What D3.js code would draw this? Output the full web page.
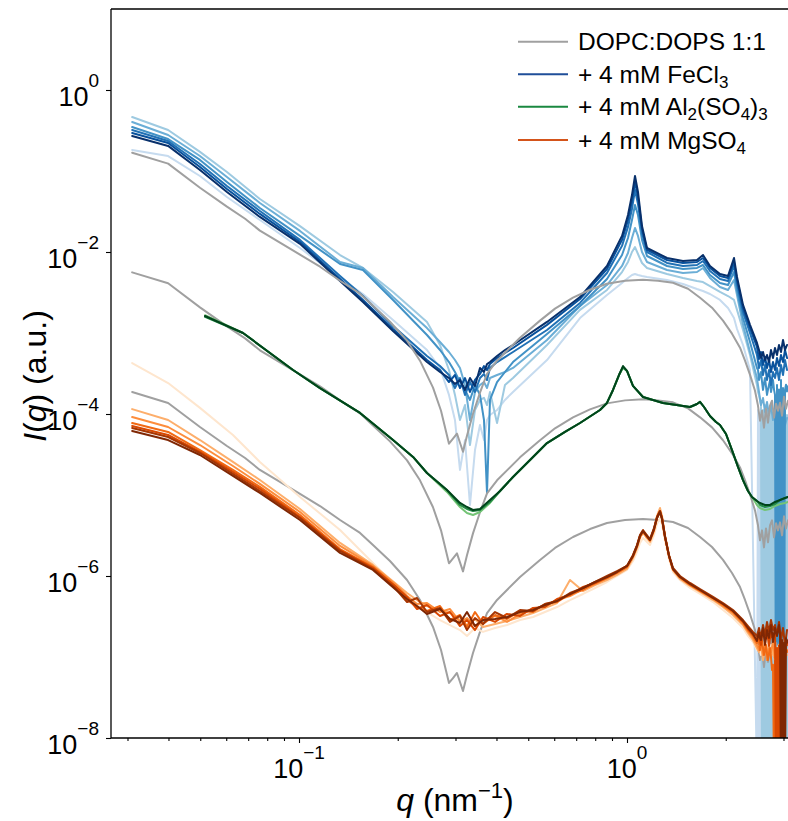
<!DOCTYPE html>
<html><head><meta charset="utf-8">
<script src="https://cdn.jsdelivr.net/npm/d3@7"></script>
<style>body{margin:0;background:#fff}svg{display:block}text{font-family:"Liberation Sans",Arial,sans-serif;fill:#000}</style>
</head><body><svg id="c" width="788" height="821"></svg>
<script>
// ---------- DATA ----------
// reference DOPC:DOPS 1:1 (plotted three times with offsets)
const qGray = [0.0310,0.0399,0.0499,0.0603,0.0685,0.0760,0.0875,0.1007,0.1159,0.1334,0.1535,0.1681,0.1894,0.2135,0.2338,0.2562,0.2710,0.2866,0.2948,0.3031,0.3096,0.3162,0.3252,0.3392,0.3563,0.3743,0.4016,0.4306,0.4719,0.5430,0.6033,0.6845,0.7712,0.8689,0.9861,1.119,1.243,1.381,1.535,1.670,1.816,1.962,2.090,2.211,2.290,2.371,2.456,2.508,2.544,2.580,2.616,2.653,2.691,2.729,2.768,2.807,2.847,2.887,2.928,2.969,3.011,3.053,3.096];
const iGray = [1.87e-4,1.37e-4,6.91e-5,4.03e-5,2.86e-5,2.04e-5,1.45e-5,1.03e-5,7.31e-6,4.91e-6,3.40e-6,2.41e-6,1.53e-6,8.93e-7,5.06e-7,2.35e-7,1.22e-7,4.78e-8,5.50e-8,6.35e-8,4.91e-8,3.80e-8,6.00e-8,1.12e-7,2.04e-7,3.49e-7,5.06e-7,6.72e-7,9.72e-7,1.58e-6,2.22e-6,3.03e-6,3.80e-6,4.51e-6,4.91e-6,5.06e-6,4.91e-6,4.64e-6,3.91e-6,3.03e-6,2.28e-6,1.58e-6,1.09e-6,7.31e-7,5.06e-7,3.40e-7,2.15e-7,1.41e-7,9.18e-8,1.22e-7,7.52e-8,1.29e-7,8.68e-8,1.41e-7,1.62e-7,1.00e-7,1.49e-7,1.22e-7,1.53e-7,1.06e-7,1.82e-7,1.29e-7,1.62e-7];
const grayOffsets = [900, 30, 1];

// high-q tail grids (coarse and fine)
const qTail = [2.526,2.561,2.598,2.635,2.672,2.710,2.748,2.787,2.826,2.866,2.907,2.948,2.990,3.032,3.075];
const qTailFine = [2.4905,2.5084,2.526,2.5438,2.5614,2.5798,2.5977,2.6163,2.6345,2.6534,2.6718,2.6909,2.7096,2.7290,2.7480,2.7677,2.7869,2.8069,2.8264,2.8467,2.8664,2.8868,2.9068,2.9276,2.9480,2.9690,2.9896,3.0110,3.0318,3.0533,3.0745,3.0962];

// + 4 mM FeCl3 (time series, light -> dark)
const qFeMain = [0.0310,0.0399,0.0499,0.0603,0.0760,0.1007,0.1334,0.1567,0.1935,0.2456,0.2691,0.2866,0.2989,0.3096,0.3207,0.3321,0.3440,0.3563,0.3664,0.3743,0.3822,0.4016,0.4246,0.4492,0.5703,0.7190,0.8689,0.9656,1.0070,1.0356,1.0578,1.0802,1.1110,1.1508,1.3243,1.4815,1.6345,1.7049,1.7906,1.9210,2.0322,2.1193,2.1647,2.2579,2.3714,2.4905];
const fe1 = [0.182,0.153,0.0868,0.0477,0.0248,0.0112,4.77e-3,3.03e-3,1.45e-3, 6.17e-4,3.70e-4,1.72e-4,8.43e-5,2.04e-5,4.77e-5,7.53e-6,3.59e-5,7.32e-5,4.77e-5,8.43e-5,9.72e-5,1.12e-4,1.49e-4,1.87e-4, 4.64e-4,1.53e-3,2.95e-3,4.14e-3,4.77e-3,5.20e-3,5.35e-3,5.20e-3,5.05e-3,4.91e-3,4.51e-3,4.03e-3,3.49e-3,3.30e-3,3.03e-3,2.56e-3,2.04e-3,1.53e-3,1.12e-3,7.11e-4,3.49e-4, 0,1.12e-4,0,9.7e-5,0,8.4e-5,0,7.3e-5,0,6.4e-5,0,7.3e-5,0,5.5e-5,0,4.8e-5,0,6.4e-5,0,5.5e-5,0,4.8e-5,0,6.4e-5,0,5.5e-5,0,4.8e-5,0,5.5e-5,0,4.8e-5];
const fe2 = [0.464,0.321,0.172,0.0972,0.0451,0.0209,9.18e-3,6.35e-3,3.21e-3, 1.37e-3,7.11e-4,3.49e-4,1.72e-4,8.43e-5,1.29e-4,4.14e-5,1.12e-4,1.49e-4,1.58e-4,1.29e-4,1.87e-4,7.74e-5,2.28e-4,2.78e-4, 7.11e-4,1.93e-3,3.40e-3,5.66e-3,7.53e-3,1.00e-2,1.15e-2,9.45e-3,7.32e-3,6.35e-3,5.35e-3,4.77e-3,4.38e-3,4.26e-3,3.80e-3,3.21e-3,2.86e-3,2.56e-3,1.93e-3,1.09e-3,5.35e-4,2.28e-4, 1.87e-4,1.7e-4,1.49e-4,1.3e-4,0,1.12e-4,0,1.29e-4,0,1.12e-4,0,9.7e-5,0,1.12e-4,0,9.7e-5,0,8.4e-5,0,1.12e-4,0,9.7e-5,0,8.4e-5,0,9.7e-5,0,1.12e-4,0,9.7e-5,0];
const fe3 = [0.403,0.278,0.153,0.0843,0.0403,0.0182,7.53e-3,6.35e-3,2.78e-3, 1.15e-3,7.74e-4,5.83e-4,4.64e-4,3.70e-4,2.28e-4,8.43e-5,1.87e-4,2.28e-4,2.48e-4,2.09e-4,2.78e-4,3.03e-4,3.30e-4,3.70e-4, 8.20e-4,2.15e-3,3.91e-3,6.72e-3,9.72e-3,1.49e-2,1.98e-2,1.58e-2,1.00e-2,7.53e-3,6.00e-3,5.51e-3,5.66e-3,6.35e-3,4.77e-3,3.70e-3,3.40e-3,4.51e-3,2.95e-3,1.26e-3,5.83e-4,2.78e-4, 1.87e-4,1.29e-4,1.58e-4,1.06e-4,1.41e-4,9.72e-5,1.29e-4,8.43e-5,1.12e-4,7.32e-5,1.06e-4,6.35e-5,9.72e-5,7.32e-5,8.93e-5];
const fe4 = [0.349,0.248,0.137,0.0732,0.0349,0.0158,7.11e-3,6.00e-3,2.56e-3, 9.45e-4,6.17e-4,4.38e-4,3.30e-4,2.48e-4,1.98e-4,1.49e-4,2.28e-4,1.72e-4,8.43e-5,1.06e-5,1.49e-4,2.48e-4,3.30e-4,4.38e-4, 9.72e-4,2.15e-3,4.64e-3,9.18e-3,1.49e-2,2.48e-2,3.80e-2,2.86e-2,1.41e-2,8.93e-3,6.72e-3,6.17e-3,6.35e-3,6.91e-3,5.20e-3,4.14e-3,3.91e-3,5.66e-3,3.40e-3,1.53e-3,7.74e-4,3.70e-4, 3.5e-4,2.63e-4,3.0e-4,3.3e-4,2.5e-4,1.98e-4,2.4e-4,2.78e-4,2.2e-4,1.72e-4,2.0e-4,2.28e-4,2.6e-4,1.87e-4,2.2e-4,2.63e-4,2.0e-4,1.72e-4,0,2.28e-4,0,2.0e-4,0,2.63e-4,0,2.1e-4,0,1.98e-4,2.3e-4,1.9e-4,2.2e-4];
const fe5 = [0.321,0.235,0.122,0.0653,0.0321,0.0141,5.05e-3,2.86e-3,1.22e-3, 5.20e-4,3.91e-4,3.03e-4,2.09e-4,2.78e-4,1.72e-4,2.48e-4,1.87e-4,2.78e-4,3.12e-4,2.63e-4,3.70e-4,4.38e-4,5.05e-4,5.83e-4, 1.09e-3,2.35e-3,5.51e-3,1.19e-2,2.04e-2,3.40e-2,5.83e-2,3.91e-2,1.72e-2,1.00e-2,7.32e-3,6.72e-3,6.91e-3,7.74e-3,5.83e-3,4.64e-3,4.38e-3,6.72e-3,4.03e-3,1.82e-3,1.00e-3,5.35e-4, 3.70e-4,4.64e-4,3.03e-4,4.03e-4,2.63e-4,3.49e-4,2.28e-4,3.30e-4,2.78e-4,3.70e-4,2.63e-4,4.03e-4,3.03e-4,4.64e-4,3.49e-4];
const fe6 = [0.295,0.222,0.112,0.0600,0.0295,0.0133,4.64e-3,2.56e-3,1.12e-3, 4.64e-4,3.49e-4,2.48e-4,3.03e-4,2.09e-4,2.78e-4,1.87e-4,2.63e-4,3.12e-4,3.91e-4,3.49e-4,4.14e-4,4.91e-4,5.66e-4,6.53e-4, 1.26e-3,2.63e-3,6.17e-3,1.41e-2,2.48e-2,4.26e-2,7.32e-2,4.77e-2,1.93e-2,1.06e-2,7.97e-3,7.32e-3,7.53e-3,8.43e-3,6.35e-3,5.05e-3,4.77e-3,7.53e-3,4.51e-3,2.04e-3,1.15e-3,6.72e-4, 4.77e-4,5.83e-4,4.03e-4,5.05e-4,3.70e-4,4.64e-4,3.30e-4,4.38e-4,3.49e-4,4.91e-4,3.91e-4,5.35e-4,4.38e-4,6.17e-4,4.91e-4];
const fe7 = [0.271,0.204,0.103,0.0551,0.0271,0.0126,4.38e-3,2.41e-3,1.06e-3, 4.38e-4,3.30e-4,2.78e-4,2.35e-4,2.63e-4,1.98e-4,2.78e-4,2.22e-4,3.70e-4,3.30e-4,4.14e-4,4.38e-4,5.20e-4,6.17e-4,7.11e-4, 1.37e-3,2.78e-3,6.72e-3,1.58e-2,2.86e-2,5.05e-2,8.68e-2,5.51e-2,2.09e-2,1.12e-2,8.43e-3,7.74e-3,7.97e-3,9.18e-3,6.72e-3,5.35e-3,5.05e-3,8.43e-3,4.91e-3,2.22e-3,1.26e-3,7.53e-4, 6.17e-4,4.91e-4,5.83e-4,4.64e-4,5.35e-4,4.38e-4,6.17e-4,4.91e-4,6.53e-4,5.35e-4,7.11e-4,5.83e-4,8.20e-4,6.17e-4,7.11e-4];

// + 4 mM Al2(SO4)3
const qAl = [0.0517,0.0675,0.0959,0.1159,0.1535,0.1935,0.2227,0.2456,0.2826,0.3096,0.3252,0.3392,0.3563,0.3822,0.4101,0.4492,0.5063,0.5703,0.6471,0.7190,0.8273,0.8689,0.9064,0.9454,0.9723,1.0000,1.0430,1.1189,1.2877,1.5563,1.6345,1.6695,1.7171,1.7906,1.8677,1.9210,2.0039,2.0897,2.1797,2.2579,2.3383,2.4049,2.4905,2.5438,2.6345,2.7290,2.8264,2.9276,3.0318,3.0962];
const al1 = [1.66e-3,1.00e-3,3.49e-4,2.09e-4,1.03e-4,4.77e-5,2.95e-5,1.87e-5,1.09e-5,7.11e-6,6.00e-6,5.66e-6,6.17e-6,7.97e-6,1.12e-5,1.67e-5,2.71e-5,4.38e-5,6.00e-5,7.74e-5,1.12e-4,1.37e-4,1.98e-4,3.03e-4,3.70e-4,3.40e-4,2.22e-4,1.62e-4,1.37e-4,1.22e-4,1.33e-4,1.41e-4,1.22e-4,9.45e-5,7.97e-5,7.32e-5,5.66e-5,3.59e-5,2.22e-5,1.53e-5,1.12e-5,9.45e-6,7.53e-6,6.91e-6,6.53e-6,6.72e-6,7.32e-6,7.74e-6,7.97e-6,8.20e-6];
const al2 = [1.58e-3,1.00e-3,3.49e-4,2.09e-4,1.03e-4,4.77e-5,2.95e-5,1.87e-5,1.15e-5,7.53e-6,6.72e-6,6.35e-6,6.53e-6,8.20e-6,1.12e-5,1.67e-5,2.71e-5,4.38e-5,6.00e-5,7.74e-5,1.12e-4,1.37e-4,1.98e-4,3.03e-4,3.80e-4,3.40e-4,2.22e-4,1.62e-4,1.37e-4,1.22e-4,1.33e-4,1.41e-4,1.22e-4,9.45e-5,7.97e-5,7.32e-5,5.66e-5,3.59e-5,2.22e-5,1.53e-5,1.12e-5,9.45e-6,8.43e-6,7.53e-6,7.11e-6,7.32e-6,7.74e-6,8.68e-6,9.18e-6,9.45e-6];
const al3 = [1.62e-3,1.00e-3,3.49e-4,2.09e-4,1.03e-4,4.77e-5,2.95e-5,1.87e-5,1.15e-5,7.97e-6,7.11e-6,6.53e-6,6.72e-6,8.68e-6,1.12e-5,1.67e-5,2.71e-5,4.38e-5,6.00e-5,7.74e-5,1.12e-4,1.37e-4,1.98e-4,3.03e-4,3.91e-4,3.40e-4,2.22e-4,1.62e-4,1.37e-4,1.22e-4,1.33e-4,1.41e-4,1.22e-4,9.45e-5,7.97e-5,7.32e-5,5.66e-5,3.59e-5,2.22e-5,1.53e-5,1.12e-5,9.45e-6,8.43e-6,7.97e-6,7.53e-6,7.53e-6,8.20e-6,8.68e-6,9.18e-6,9.45e-6];

// + 4 mM MgSO4
const qMgMain = [0.0310,0.0399,0.0499,0.0629,0.0760,0.1007,0.1334,0.1681,0.1962,0.2135,0.2290,0.2456,0.2691,0.2886,0.3096,0.3252,0.3440,0.3639,0.3960,0.4306,0.4719,0.5170,0.5623,0.6118,0.6702,0.7344,0.7990,0.8689,0.9322,1.0000,1.0430,1.0727,1.0955,1.1189,1.1426,1.1752,1.2087,1.2345,1.2607,1.2785,1.3059,1.3428,1.3810,1.4507,1.5563,1.6695,1.8290,1.9621,2.1047,2.2579,2.3383,2.4217,2.4905];
const mg1 = [4.26e-4,2.41e-4,1.19e-4,5.51e-5,2.56e-5,9.45e-6,3.70e-6,1.45e-6,7.74e-7,5.51e-7,4.38e-7,3.59e-7,2.86e-7,2.48e-7,2.15e-7,1.82e-7,2.28e-7,2.04e-7,2.28e-7,2.48e-7,2.86e-7,3.12e-7,3.59e-7,4.14e-7,5.05e-7,6.00e-7,7.11e-7,8.43e-7,1.00e-6,1.19e-6,1.53e-6,1.98e-6,2.56e-6,2.95e-6,2.71e-6,2.41e-6,3.21e-6,4.38e-6,5.20e-6,4.38e-6,2.71e-6,1.62e-6,1.12e-6,8.93e-7,7.11e-7,6.00e-7,4.77e-7,3.80e-7,3.03e-7,2.28e-7,1.82e-7,1.53e-7,1.22e-7,1.37e-7,1.06e-7,1.53e-7,1.22e-7,1.62e-7,1.15e-7,1.41e-7,1.06e-7,1.29e-7,1.22e-7,1.41e-7,1.06e-7,1.29e-7,1.15e-7,1.22e-7];
const mg2 = [1.15e-4,8.43e-5,4.77e-5,2.56e-5,1.53e-5,6.72e-6,2.56e-6,1.37e-6,8.20e-7,6.17e-7,5.05e-7,4.26e-7,3.80e-7,3.49e-7,2.86e-7,2.48e-7,2.95e-7,2.35e-7,2.56e-7,2.78e-7,3.12e-7,3.49e-7,4.03e-7,4.64e-7,8.93e-7,6.53e-7,7.74e-7,8.93e-7,1.03e-6,1.22e-6,1.67e-6,2.22e-6,2.95e-6,3.40e-6,3.03e-6,2.63e-6,3.59e-6,5.51e-6,6.91e-6,5.51e-6,3.12e-6,1.77e-6,1.19e-6,9.18e-7,7.53e-7,6.35e-7,5.05e-7,4.14e-7,3.30e-7,2.48e-7,1.98e-7,1.62e-7,1.29e-7,1.15e-7,1.41e-7,9.18e-8,1.29e-7,1.06e-7,1.41e-7,9.72e-8,1.22e-7,8.68e-8,1.29e-7,1.03e-7,1.22e-7,9.18e-8,1.15e-7,1.06e-7];
const mg3 = [9.18e-5,6.91e-5,4.14e-5,2.28e-5,1.37e-5,6.17e-6,2.35e-6,1.33e-6,7.97e-7,5.66e-7,4.51e-7,4.64e-7,3.59e-7,3.91e-7,2.71e-7,3.03e-7,2.41e-7,2.86e-7,3.21e-7,2.71e-7,3.40e-7,3.91e-7,4.26e-7,5.05e-7,5.66e-7,6.91e-7,7.97e-7,9.45e-7,1.09e-6,1.29e-6,1.72e-6,2.28e-6,3.03e-6,3.49e-6,3.12e-6,2.71e-6,3.70e-6,5.20e-6,6.35e-6,5.20e-6,3.03e-6,1.77e-6,1.19e-6,9.45e-7,7.74e-7,6.53e-7,5.20e-7,4.26e-7,3.49e-7,2.56e-7,2.09e-7,1.72e-7,1.41e-7,1.22e-7,1.62e-7,1.06e-7,1.41e-7,9.18e-8,1.29e-7,1.15e-7,1.53e-7,9.72e-8,1.29e-7,8.68e-8,1.22e-7,1.06e-7,1.29e-7,1.22e-7];
const mg4 = [7.74e-5,6.00e-5,3.59e-5,2.04e-5,1.26e-5,5.66e-6,2.15e-6,1.29e-6,7.53e-7,5.05e-7,4.14e-7,3.70e-7,4.26e-7,2.86e-7,3.30e-7,2.35e-7,3.59e-7,2.56e-7,3.30e-7,2.95e-7,3.70e-7,3.59e-7,4.51e-7,4.77e-7,6.00e-7,6.72e-7,8.20e-7,9.45e-7,1.09e-6,1.29e-6,1.77e-6,2.35e-6,3.12e-6,3.59e-6,3.21e-6,2.78e-6,3.70e-6,5.20e-6,6.17e-6,5.05e-6,3.03e-6,1.77e-6,1.22e-6,9.72e-7,7.74e-7,6.53e-7,5.35e-7,4.38e-7,3.59e-7,2.71e-7,2.15e-7,1.82e-7,1.49e-7, 1.72e-7,1.5e-7,1.22e-7,1.4e-7,1.62e-7,1.3e-7,1.06e-7,1.2e-7,1.41e-7,1.1e-7,9.18e-8,1.1e-7,1.29e-7,1.0e-7,6.91e-8,8.0e-8,0,9.0e-8,0,9.18e-8,0,1.0e-7,0,1.06e-7,1.15e-7,1.22e-7,1.3e-7,1.29e-7,1.2e-7,1.15e-7,1.2e-7];
const mg5 = [7.11e-5,5.51e-5,3.40e-5,1.93e-5,1.19e-5,5.35e-6,2.09e-6,1.26e-6,7.53e-7,5.51e-7,3.91e-7,4.38e-7,3.21e-7,3.59e-7,2.41e-7,2.86e-7,2.15e-7,3.12e-7,2.71e-7,3.40e-7,3.21e-7,4.03e-7,4.14e-7,5.20e-7,5.83e-7,7.32e-7,8.20e-7,9.72e-7,1.12e-6,1.33e-6,1.77e-6,2.35e-6,3.12e-6,3.59e-6,3.21e-6,2.78e-6,3.80e-6,5.35e-6,6.35e-6,5.20e-6,3.03e-6,1.77e-6,1.22e-6,9.72e-7,7.97e-7,6.72e-7,5.35e-7,4.51e-7,3.70e-7,2.71e-7,2.22e-7,1.87e-7,1.62e-7, 1.87e-7,2.04e-7,1.6e-7,1.41e-7,1.8e-7,2.15e-7,1.9e-7,1.62e-7,1.8e-7,2.28e-7,1.7e-7,1.37e-7,1.7e-7,2.04e-7,1.8e-7,1.62e-7,1.9e-7,2.15e-7,0,1.29e-7,0,1.4e-7,0,1.22e-7,0,1.3e-7,1.41e-7,1.5e-7,1.62e-7,1.5e-7,1.4e-7];
const mg6 = [6.72e-5,5.20e-5,3.30e-5,1.82e-5,1.12e-5,5.20e-6,2.04e-6,1.22e-6,7.11e-7,4.77e-7,5.35e-7,3.59e-7,4.03e-7,2.71e-7,3.21e-7,2.15e-7,3.03e-7,2.56e-7,3.59e-7,3.03e-7,3.80e-7,3.70e-7,4.51e-7,4.91e-7,6.17e-7,7.11e-7,8.43e-7,1.00e-6,1.15e-6,1.33e-6,1.82e-6,2.41e-6,3.21e-6,3.70e-6,3.30e-6,2.86e-6,3.91e-6,5.35e-6,6.35e-6,5.20e-6,3.12e-6,1.82e-6,1.26e-6,1.00e-6,8.20e-7,6.91e-7,5.51e-7,4.64e-7,3.80e-7,2.86e-7,2.41e-7,2.04e-7,1.82e-7,2.28e-7,1.72e-7,2.48e-7,1.87e-7,2.71e-7,2.04e-7,2.86e-7,2.15e-7,2.48e-7,1.87e-7,2.71e-7,1.62e-7,2.28e-7,1.41e-7,2.15e-7];
const mg7 = [6.17e-5,4.77e-5,3.12e-5,1.72e-5,1.06e-5,4.91e-6,1.93e-6,1.19e-6,6.91e-7,5.20e-7,4.26e-7,3.40e-7,3.91e-7,2.95e-7,2.63e-7,3.59e-7,2.41e-7,2.86e-7,2.95e-7,3.12e-7,3.59e-7,3.80e-7,4.38e-7,4.91e-7,6.00e-7,7.11e-7,8.43e-7,9.72e-7,1.12e-6,1.33e-6,1.77e-6,2.35e-6,3.12e-6,3.59e-6,3.21e-6,2.78e-6,3.80e-6,5.20e-6,6.17e-6,5.05e-6,3.03e-6,1.77e-6,1.22e-6,9.72e-7,7.97e-7,6.72e-7,5.35e-7,4.51e-7,3.70e-7,2.78e-7,2.28e-7,1.93e-7,1.58e-7, 1.8e-7,1.98e-7,1.7e-7,1.62e-7,1.9e-7,2.28e-7,1.8e-7,1.41e-7,1.7e-7,2.15e-7,1.9e-7,1.72e-7,2.1e-7,2.48e-7,2.0e-7,1.53e-7,1.9e-7,2.28e-7,2.0e-7,1.82e-7,2.1e-7,2.48e-7,1.9e-7,0,1.62e-7,0,1.5e-7,0,1.7e-7,1.5e-7,1.6e-7];

// ticks
const xMajorTicks = [0.1, 1];
const xMajorExp = ["\u22121", "0"];
const xMinorTicks = [0.03,0.04,0.05,0.06,0.07,0.08,0.09,0.2,0.3,0.4,0.5,0.6,0.7,0.8,0.9,2,3];
const yMajorTicks = [1e-8, 1e-6, 1e-4, 1e-2, 1];
const yMajorExp = ["\u22128", "\u22126", "\u22124", "\u22122", "0"];

// grids per curve
const qFeCoarse = qFeMain.concat(qTail);
const qFeFine = qFeMain.concat(qTailFine.slice(1));
const qFe1 = qFeMain.slice(0, 45).concat(qTailFine);
const qMgCoarse = qMgMain.concat(qTail);
const qMgFine = qMgMain.concat(qTailFine.slice(1));

// ---------- STYLE / LAYOUT ----------
const feColors = ["#c6dbef","#9ecae1","#6baed6","#4292c6","#2171b5","#08519c","#08306b"];
const alColors = ["#74c476","#238b45","#00441b"];
const mgColors = ["#fee6ce","#fdae6b","#fd8d3c","#f16913","#d94801","#a63603","#7f2704"];
const grayColor = "#a0a0a0";

const L = 111, T = 9, W = 680, H = 729;
const svg = d3.select("#c");
const x = d3.scaleLog().domain([0.02672, 3.1623]).range([0, W]);
const y = d3.scaleLog().domain([1e-8, 10]).range([H, 0]);

svg.append("defs").append("clipPath").attr("id","clip")
  .append("rect").attr("x",0).attr("y",0).attr("width",W).attr("height",H);

const g = svg.append("g").attr("transform",`translate(${L},${T})`);
const plot = g.append("g").attr("clip-path","url(#clip)");

const line = d3.line().x(d => x(d[0])).y(d => d[1] > 0 ? y(d[1]) : H + 40);
function drawCurve(q, I, color, scale) {
  const pts = q.map((v, i) => [v, I[i] * scale]);
  plot.append("path").attr("d", line(pts))
    .attr("fill","none").attr("stroke",color).attr("stroke-width",2)
    .attr("stroke-linejoin","round").attr("stroke-linecap","round");
}

const feSets = [[qFe1,fe1],[qFeFine,fe2],[qFeCoarse,fe3],[qFeFine,fe4],[qFeCoarse,fe5],[qFeCoarse,fe6],[qFeCoarse,fe7]];
feSets.forEach(([q,s],i) => drawCurve(q, s, feColors[i], 1));
grayOffsets.forEach(o => drawCurve(qGray, iGray, grayColor, o));
[al1,al2,al3].forEach((s,i) => drawCurve(qAl, s, alColors[i], 1));
const mgSets = [[qMgCoarse,mg1],[qMgCoarse,mg2],[qMgCoarse,mg3],[qMgFine,mg4],[qMgFine,mg5],[qMgCoarse,mg6],[qMgFine,mg7]];
mgSets.forEach(([q,s],i) => drawCurve(q, s, mgColors[i], 1));

// axes ticks
const xAxisMajor = d3.axisBottom(x).tickValues(xMajorTicks).tickSize(5).tickSizeOuter(0).tickFormat(() => "");
const xAxisMinor = d3.axisBottom(x).tickValues(xMinorTicks).tickSize(3).tickSizeOuter(0).tickFormat(() => "");
const yAxis = d3.axisLeft(y).tickValues(yMajorTicks).tickSize(5).tickSizeOuter(0).tickFormat(() => "");
[xAxisMinor, xAxisMajor].forEach(a => {
  const ga = g.append("g").attr("transform",`translate(0,${H})`).call(a);
  ga.select(".domain").remove();
  ga.selectAll("line").attr("stroke","#000").attr("stroke-width",1.1);
});
const gy = g.append("g").call(yAxis);
gy.select(".domain").remove();
gy.selectAll("line").attr("stroke","#000").attr("stroke-width",1.1);

// spines
[[0,0,0,H],[0,W,H,H],[0,W,0,0],[W,W,0,H]].forEach(([x1,x2,y1,y2]) =>
  g.append("line").attr("x1",x1).attr("x2",x2).attr("y1",y1).attr("y2",y2).attr("stroke","#000").attr("stroke-width",1.3));

// tick labels (10^n)
xMajorTicks.forEach((v,i) => {
  const t = g.append("text").attr("x", x(v)).attr("y", H + 40).attr("text-anchor","middle").attr("font-size",27);
  t.append("tspan").text("10");
  t.append("tspan").attr("dy",-19).attr("font-size",19).text(xMajorExp[i]);
});
yMajorTicks.forEach((v,i) => {
  const t = g.append("text").attr("x", -12).attr("y", y(v) + 16).attr("text-anchor","end").attr("font-size",27);
  t.append("tspan").text("10");
  t.append("tspan").attr("dy",-19).attr("font-size",19).text(yMajorExp[i]);
});

// axis labels
const xl = svg.append("text").attr("x", 455).attr("y", 811).attr("text-anchor","middle").attr("font-size",32);
xl.append("tspan").attr("font-style","italic").text("q");
xl.append("tspan").text(" (nm");
xl.append("tspan").attr("dy",-13).attr("font-size",22).text("\u22121");
xl.append("tspan").attr("dy",13).text(")");

const yl = svg.append("text").attr("transform","translate(46,376) rotate(-90)").attr("text-anchor","middle").attr("font-size",32);
yl.append("tspan").attr("font-style","italic").text("I");
yl.append("tspan").text("(");
yl.append("tspan").attr("font-style","italic").text("q");
yl.append("tspan").text(") (a.u.)");

// legend
const legendColors = [grayColor, "#1f4e99", "#1a8840", "#d4541a"];
const legendParts = [
  [["DOPC:DOPS 1:1", 0]],
  [["+ 4 mM FeCl", 0], ["3", 1]],
  [["+ 4 mM Al", 0], ["2", 1], ["(SO", 0], ["4", 1], [")", 0], ["3", 1]],
  [["+ 4 mM MgSO", 0], ["4", 1]]
];
const legendY = [41.7, 74.3, 106.7, 140];
legendParts.forEach((parts, i) => {
  svg.append("line").attr("x1",518).attr("x2",568).attr("y1",legendY[i]).attr("y2",legendY[i])
    .attr("stroke",legendColors[i]).attr("stroke-width",2);
  const t = svg.append("text").attr("x",578).attr("y",legendY[i] + 8.5).attr("font-size",24.5);
  let sub = 0;
  parts.forEach(([s, isSub]) => {
    const ts = t.append("tspan").text(s);
    if (isSub && !sub) { ts.attr("dy",5).attr("font-size",17); sub = 1; }
    else if (isSub && sub) { ts.attr("font-size",17); }
    else if (!isSub && sub) { ts.attr("dy",-5); sub = 0; }
  });
});
</script></body></html>
